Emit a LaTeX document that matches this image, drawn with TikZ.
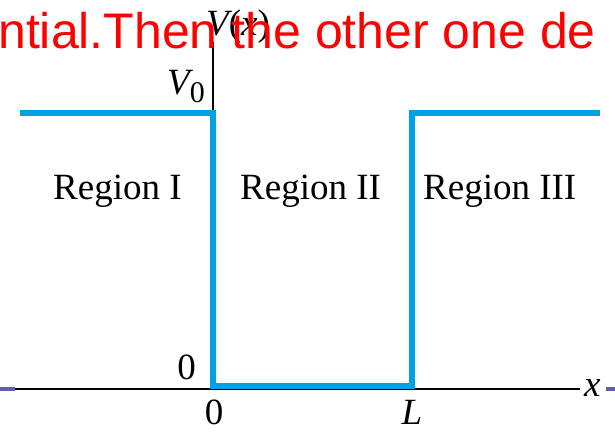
\documentclass[tikz,border=0pt]{standalone}
\usepackage{fontspec}
\setmainfont{Liberation Serif}
\newfontfamily\arialfont{Liberation Sans}
\definecolor{wellblue}{RGB}{0,160,228}
\definecolor{barpurple}{RGB}{96,96,164}
\definecolor{slidered}{RGB}{255,0,0}
\begin{document}
\begin{tikzpicture}[x=1pt,y=-1pt,
  lbl/.style={inner sep=0pt, font=\fontsize{37}{40}\selectfont},
  axisline/.style={line width=2pt, black},
  barline/.style={line width=4pt, barpurple},
  well/.style={line width=6pt, wellblue, line join=miter}]
\useasboundingbox (0,0) rectangle (615,434);
\begin{scope}
\clip (0,0) rectangle (615,434);
% axes
\coordinate (vtop) at (213,42);
\coordinate (origin) at (213,389);
\coordinate (hleft) at (15,389);
\coordinate (hright) at (580,389);
\coordinate (bl0) at (0,389);
\coordinate (br0) at (606,389);
\coordinate (br1) at (615,389);
\draw[axisline] (vtop) -- (origin);
\draw[axisline] (hleft) -- (hright);
\draw[barline] (bl0) -- (hleft);
\draw[barline] (br0) -- (br1);
% potential well
\coordinate (w1) at (20,113);
\coordinate (w2) at (213,113);
\coordinate (w3) at (213,386);
\coordinate (w4) at (412,386);
\coordinate (w5) at (412,113);
\coordinate (w6) at (600,113);
\draw[well] (w1) -- (w2) -- (w3) -- (w4) -- (w5) -- (w6);
% labels
\node[lbl, anchor=base west] (vx) at (206,35) {\itshape V\upshape(\itshape x\upshape)};
\node[lbl, anchor=base west] (v0) at (167,94) {\itshape V\upshape\raisebox{-0.22em}{\fontsize{30}{32}\selectfont 0}};
\node[lbl, anchor=base west] (r1) at (53,199) {Region I};
\node[lbl, anchor=base west] (r2) at (240,199) {Region II};
\node[lbl, anchor=base west] (r3) at (423,199) {Region III};
\node[lbl, anchor=base east] (zl) at (196,379) {0};
\node[lbl, anchor=base] (zb) at (214,424) {0};
\node[lbl, anchor=base] (ll) at (412,424) {\itshape L};
\node[lbl, anchor=base west] (xl) at (584,396) {\itshape x};
% overlay caption
\node[inner sep=0pt, anchor=base west, text=slidered, font=\arialfont\fontsize{50}{52}\selectfont] (cap) at (-2,48) {ntial.Then the other one de};
\end{scope}
\end{tikzpicture}
\end{document}
